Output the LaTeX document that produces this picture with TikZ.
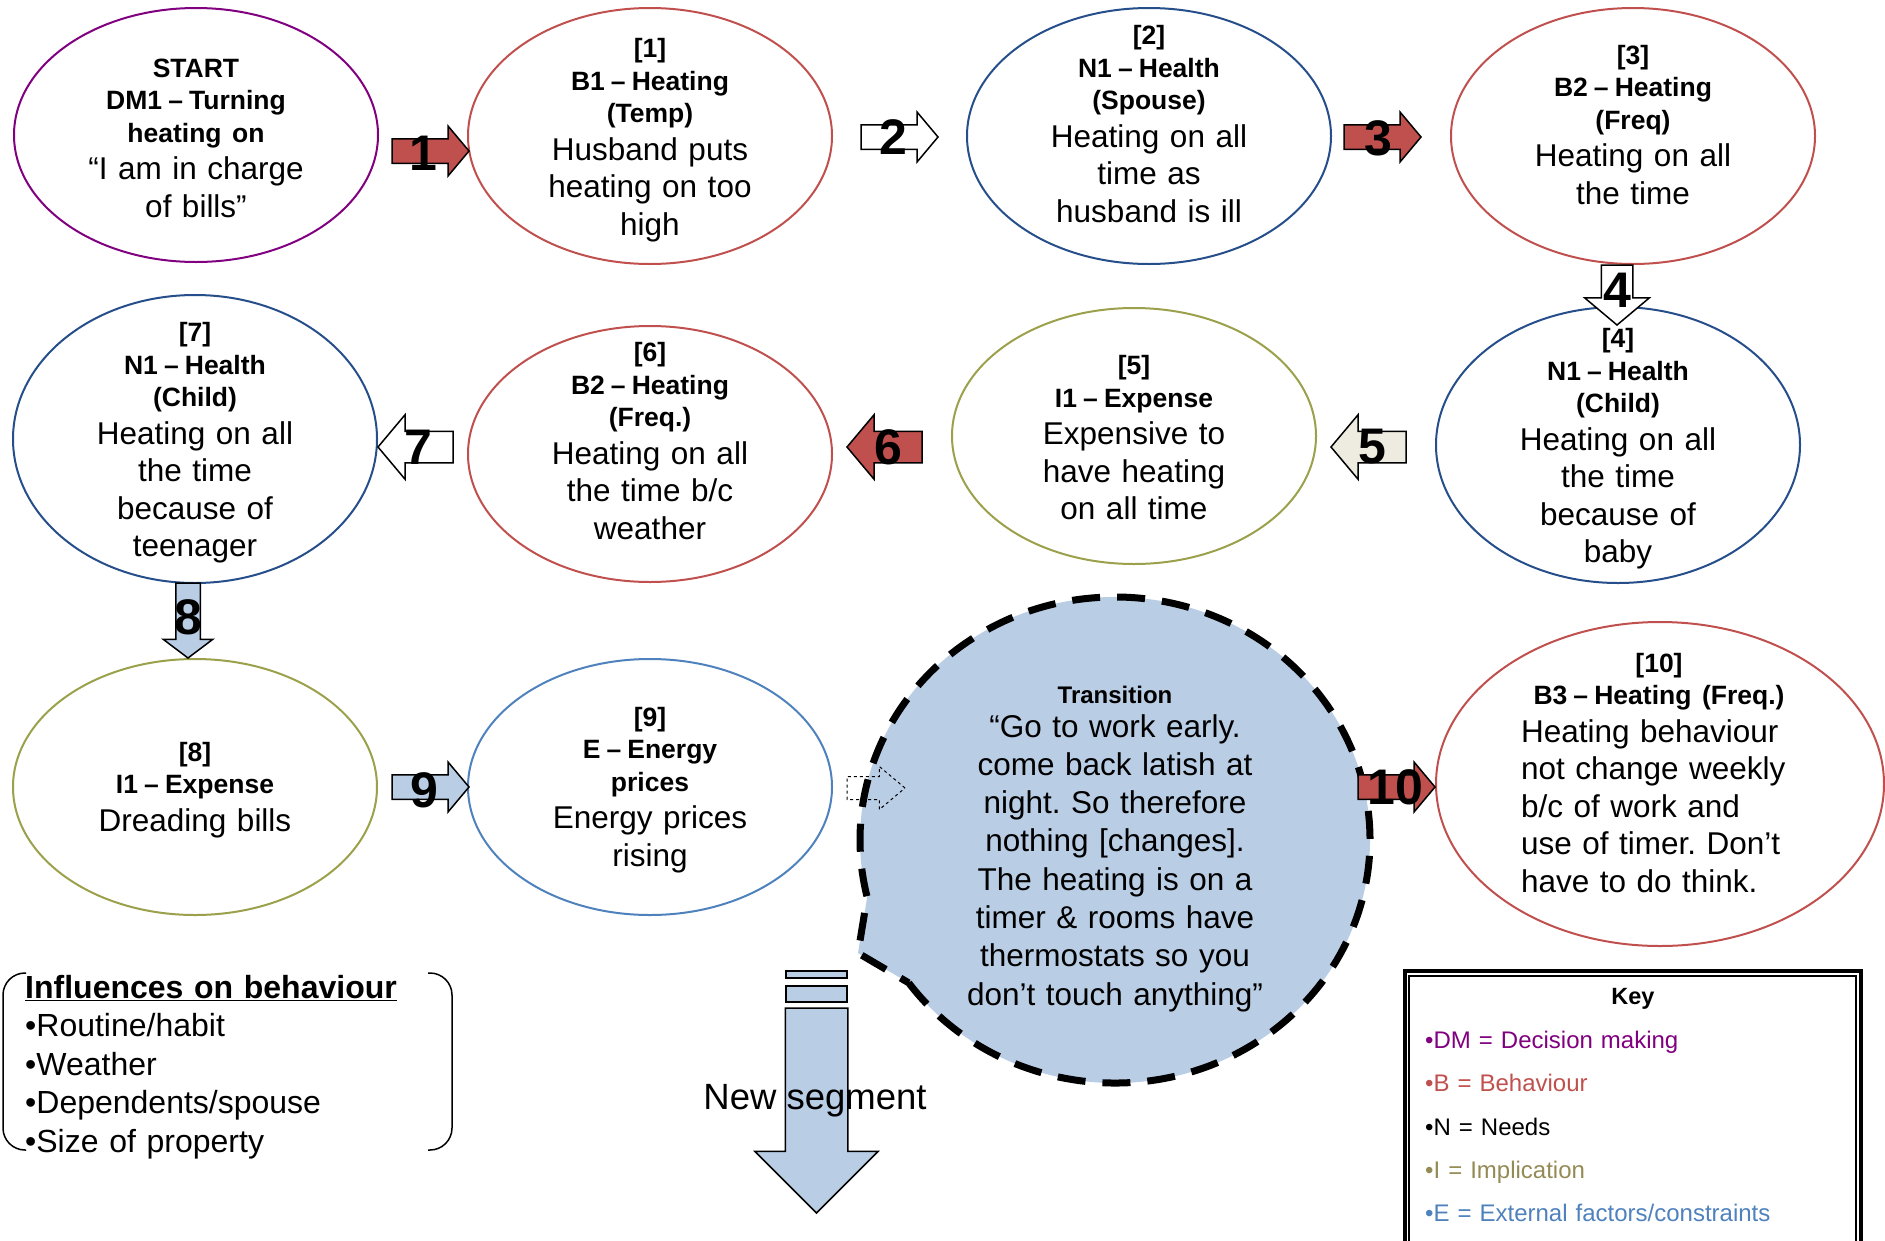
\documentclass[tikz,border=0pt]{standalone}
\usepackage{fontspec}
\setmainfont{Liberation Sans}
\usetikzlibrary{shapes.geometric,shapes.arrows}
\frenchspacing

\definecolor{dmpurple}{RGB}{128,0,128}
\definecolor{bred}{RGB}{192,80,77}
\definecolor{nblue}{RGB}{37,78,138}
\definecolor{iolive}{RGB}{155,160,75}
\definecolor{itext}{RGB}{148,138,84}
\definecolor{eblue}{RGB}{79,129,189}
\definecolor{lightblue}{RGB}{185,205,229}
\definecolor{beige}{RGB}{238,236,225}

\newcommand{\hd}[1]{{\fontsize{26.5}{32.5}\selectfont\bfseries #1\par}}
\newcommand{\nd}{\hspace{0.23em}–\hspace{0.23em}}

\begin{document}
\begin{tikzpicture}[x=1pt, y=1pt,
  ell/.style={ellipse, draw=#1, line width=2pt, minimum width=364pt, minimum height=256pt, inner sep=0pt},
  txt/.style={text width=420pt, align=center, inner sep=0pt, font=\fontsize{31.5}{37.5}\selectfont},
  sarrow/.style={single arrow, draw=black, line width=1.5pt, fill=#1, anchor=tail, outer sep=0pt, minimum height=77pt, inner xsep=0pt, inner ysep=11.5pt, single arrow head extend=12.5pt, single arrow tip angle=100},
  barrow/.style={sarrow=#1, minimum height=75pt, inner ysep=15pt, single arrow head extend=16.5pt},
  arrnum/.style={inner sep=0pt, font=\fontsize{50}{50}\selectfont\bfseries}]
 \useasboundingbox (0,0) rectangle (1885,-1240);

 \node[ell=dmpurple, minimum height=254pt] (s0) at (196,-135) {};
 \node[ell=bred] (s1) at (650,-136) {};
 \node[ell=nblue] (s2) at (1149,-136) {};
 \node[ell=bred] (s3) at (1633,-136) {};
 \node[ell=nblue, minimum height=276pt] (s4) at (1618,-445) {};
 \node[ell=iolive] (s5) at (1134,-436) {};
 \node[ell=bred] (s6) at (650,-454) {};
 \node[ell=nblue, minimum height=288pt] (s7) at (195,-439) {};
 \node[ell=iolive] (s8) at (195,-787) {};
 \node[ell=eblue] (s9) at (650,-787) {};
 \node[ell=bred, minimum width=448pt, minimum height=324pt] (s10) at (1660,-784) {};

 \node[txt] (s0t) at (196,-138) {\hd{START\\DM1\nd Turning\\heating on}“I am in charge\\of bills”};
 \node[txt] (s1t) at (650,-140) {\hd{[1]\\B1\nd Heating\\(Temp)}Husband puts\\heating on too\\high};
 \node[txt] (s2t) at (1149,-124) {\hd{[2]\\N1\nd Health\\(Spouse)}Heating on all\\time as\\husband is ill};
 \node[txt] (s3t) at (1633,-125) {\hd{[3]\\B2\nd Heating\\(Freq)}Heating on all\\the time};
 \node[txt] (s4t) at (1618,-449) {\hd{[4]\\N1\nd Health\\(Child)}Heating on all\\the time\\because of\\baby};
 \node[txt] (s5t) at (1134,-438) {\hd{[5]\\I1\nd Expense}Expensive to\\have heating\\on all time};
 \node[txt] (s6t) at (650,-441) {\hd{[6]\\B2\nd Heating\\(Freq.)}Heating on all\\the time b/c\\weather};
 \node[txt] (s7t) at (195,-443) {\hd{[7]\\N1\nd Health\\(Child)}Heating on all\\the time\\because of\\teenager};
 \node[txt] (s8t) at (195,-790) {\hd{[8]\\I1\nd Expense}Dreading bills};
 \node[txt] (s9t) at (650,-790) {\hd{[9]\\E\nd Energy\\prices}Energy prices\\rising};
 \node[txt, text width=276pt] (s10t) at (1659,-773) {\hd{[10]\\B3\nd Heating (Freq.)}{\raggedright Heating behaviour\\not change weekly\\b/c of work and\\use of timer. Don’t\\have to do think.\par}};

 \path[draw=black, fill=lightblue, line width=7pt, dash pattern=on 28pt off 17pt]
   (1115,-840) ++(216:255pt and 243pt) arc[start angle=216, end angle=553.6, x radius=255pt, y radius=243pt] -- (858,-953) -- cycle;
 \node[txt, font=\fontsize{31.5}{38.3}\selectfont] (bubt) at (1115,-849) {{\fontsize{24}{30}\selectfont\bfseries Transition\par}\vspace{-5pt}“Go to work early.\\come back latish at\\night. So therefore\\nothing [changes].\\The heating is on a\\timer \& rooms have\\thermostats so you\\don’t touch anything”};

 \node[sarrow=bred] (a1) at (392,-151) {};
 \node[sarrow=white] (a2) at (861,-137) {};
 \node[sarrow=bred] (a3) at (1344,-137) {};
 \node[barrow=white, rotate=-90, minimum height=60pt] (a4) at (1617,-265) {};
 \node[barrow=beige, rotate=180] (a5) at (1406,-447) {};
 \node[barrow=bred, rotate=180] (a6) at (922,-447) {};
 \node[barrow=white, rotate=180] (a7) at (453,-447) {};
 \node[sarrow=lightblue, rotate=-90, minimum height=75pt, single arrow tip angle=106] (a8) at (188,-583) {};
 \node[sarrow=lightblue] (a9) at (392,-787) {};
 \node[sarrow=white, fill=none, dashed, line width=1pt, minimum height=58pt, inner ysep=11pt, single arrow head extend=10pt, single arrow tip angle=80] (a9b) at (847,-788) {};
 \node[sarrow=bred] (a10) at (1358,-787) {};

 \node[arrnum] (n1) at (423,-153) {1};
 \node[arrnum] (n2) at (893,-137) {2};
 \node[arrnum] (n3) at (1378,-138) {3};
 \node[arrnum] (n4) at (1617,-290) {4};
 \node[arrnum] (n5) at (1372,-447) {5};
 \node[arrnum] (n6) at (888,-447) {6};
 \node[arrnum] (n7) at (418,-447) {7};
 \node[arrnum] (n8) at (188,-617) {8};
 \node[arrnum] (n9) at (424,-790) {9};
 \node[arrnum] (n10) at (1395,-787) {10};

 \draw[line width=1.5pt, fill=lightblue] (786,-971) rectangle (847,-978);
 \draw[line width=1.5pt, fill=lightblue] (786,-986) rectangle (847,-1002);
 \node[single arrow, draw=black, line width=1.5pt, fill=lightblue, rotate=-90, anchor=tail, outer sep=0pt, minimum height=205pt, inner xsep=0pt, inner ysep=30.5pt, single arrow head extend=30.5pt, single arrow tip angle=90] (segarr) at (816.5,-1008) {};
 \node[inner sep=0pt, font=\fontsize{36.5}{40}\selectfont] (segt) at (815,-1101) {New segment};

 \draw[line width=1.5pt, rounded corners=22pt] (26,-973) -- (3,-973) -- (3,-1150) -- (26,-1150);
 \draw[line width=1.5pt, rounded corners=22pt] (428,-973) -- (452,-973) -- (452,-1150) -- (428,-1150);
 \node[anchor=north west, text width=420pt, align=left, inner sep=0pt, font=\fontsize{32}{38.5}\selectfont] (infl) at (25,-975) {\underline{\textbf{Influences on behaviour}}\\•Routine/habit\\•Weather\\•Dependents/spouse\\•Size of property};

 \draw[line width=4pt] (1404.7,-971.3) rectangle (1861.3,-1260);
 \draw[line width=2.3pt] (1408.8,-976.2) rectangle (1856.2,-1260);
 \node[inner sep=0pt, font=\fontsize{23.5}{28}\selectfont\bfseries] (keyt) at (1633,-999) {Key};
 \node[anchor=north west, text width=420pt, align=left, inner sep=0pt, font=\fontsize{24}{43.3}\selectfont] (keyl) at (1425,-1031) {\textcolor{dmpurple}{•DM = Decision making}\\\textcolor{bred}{•B = Behaviour}\\•N = Needs\\\textcolor{itext}{•I = Implication}\\\textcolor{eblue}{•E = External factors/constraints}};
\end{tikzpicture}
\end{document}
